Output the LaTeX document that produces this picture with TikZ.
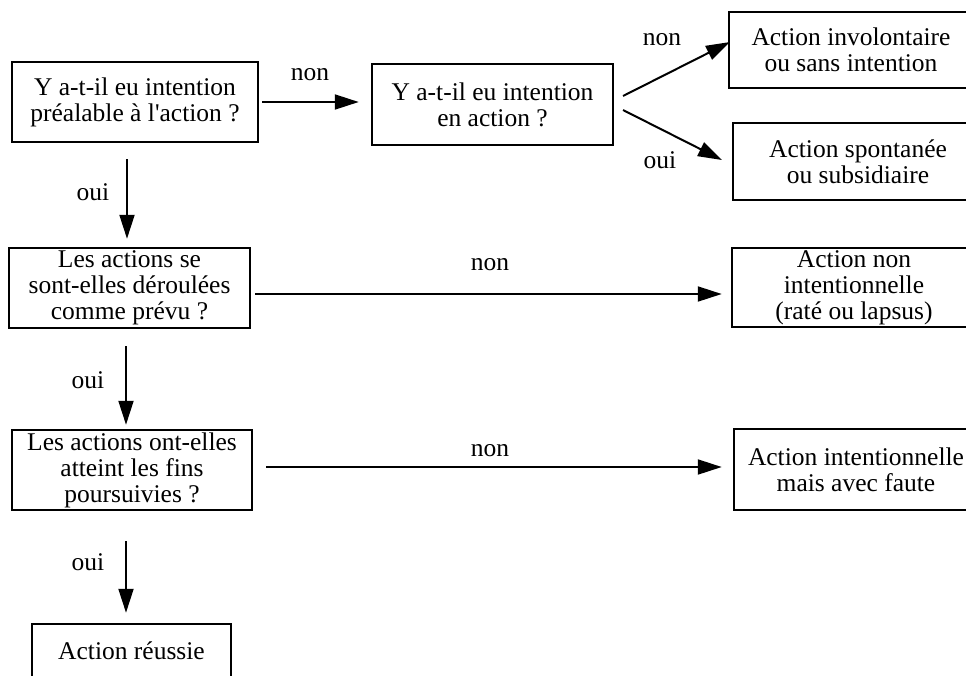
\documentclass[tikz,border=0pt]{standalone}
\usepackage{fontspec}
\setmainfont{Liberation Serif}[Ligatures=TeXOff]
\usetikzlibrary{arrows.meta}
\begin{document}
\begin{tikzpicture}[x=1pt,y=-1pt,
  every node/.style={font=\fontsize{25.5}{26}\selectfont},
  box/.style={draw, line width=2.5pt, inner sep=0pt, align=center},
  conn/.style={line width=2pt, -{Triangle[length=24pt,width=15pt]}},
  lbl/.style={inner sep=0pt}]
\useasboundingbox (0,0) rectangle (966,675);
\clip (0,0) rectangle (966,675);

% question boxes
\node[box, minimum width=246pt, minimum height=80pt] (A) at (135,102)
  {Y a-t-il eu intention\\préalable à l'action ?};
\node[box, minimum width=241pt, minimum height=81pt] (B) at (492.5,104.5)
  {Y a-t-il eu intention\\en action ?};
\node[box, minimum width=241pt, minimum height=80pt] (E) at (129.5,288)
  {Les actions se\\sont-elles déroulées\\comme prévu ?};
\node[box, minimum width=240pt, minimum height=80pt] (G) at (132,470)
  {Les actions ont-elles\\atteint les fins\\poursuivies ?};

% outcome boxes
\node[box, minimum width=244pt, minimum height=76pt] (C) at (851,50)
  {Action involontaire\\ou sans intention};
\node[box, minimum width=250pt, minimum height=77pt] (D) at (858,161.5)
  {Action spontanée\\ou subsidiaire};
\node[box, minimum width=244pt, minimum height=79pt] (F) at (854,287.5)
  {Action non\\intentionnelle\\(raté ou lapsus)};
\node[box, minimum width=244pt, minimum height=81pt] (H) at (856,469.5)
  {Action intentionnelle\\mais avec faute};
\node[box, minimum width=199pt, minimum height=54pt] (I) at (131.5,651)
  {Action réussie};

% connectors
\draw[conn, shorten <=3pt, shorten >=12pt] (A.east) -- (A.east -| B.west);
\coordinate (Bu) at (623,96);
\coordinate (Bd) at (623,110);
\draw[conn] (Bu) -- (730,42) coordinate (Ct);
\draw[conn] (Bd) -- (722,160) coordinate (Dt);
\draw[conn, shorten <=16pt, shorten >=8pt] ([xshift=-8pt]A.south) -- ([xshift=-8pt]A.south |- E.north);
\draw[conn, shorten <=4pt, shorten >=9pt] ([yshift=-6pt]E.east) -- ([yshift=-6pt]E.east -| F.west);
\draw[conn, shorten <=17pt, shorten >=4pt] ([xshift=-3.5pt]E.south) -- ([xshift=-3.5pt]E.south |- G.north);
\draw[conn, shorten <=13pt, shorten >=11pt] ([yshift=3pt]G.east) -- ([yshift=3pt]G.east -| H.west);
\draw[conn, shorten <=30pt, shorten >=10pt] ([xshift=-6pt]G.south) -- ([xshift=-6pt]G.south |- I.north);

% connector labels
\node[lbl] (l1) at (310,75) {non};
\node[lbl] (l2) at (662,40) {non};
\node[lbl] (l3) at (660,160) {oui};
\node[lbl] (l4) at (93,192) {oui};
\node[lbl] (l5) at (490,265) {non};
\node[lbl] (l6) at (88,380) {oui};
\node[lbl] (l7) at (490,451) {non};
\node[lbl] (l8) at (88,562) {oui};
\end{tikzpicture}
\end{document}
